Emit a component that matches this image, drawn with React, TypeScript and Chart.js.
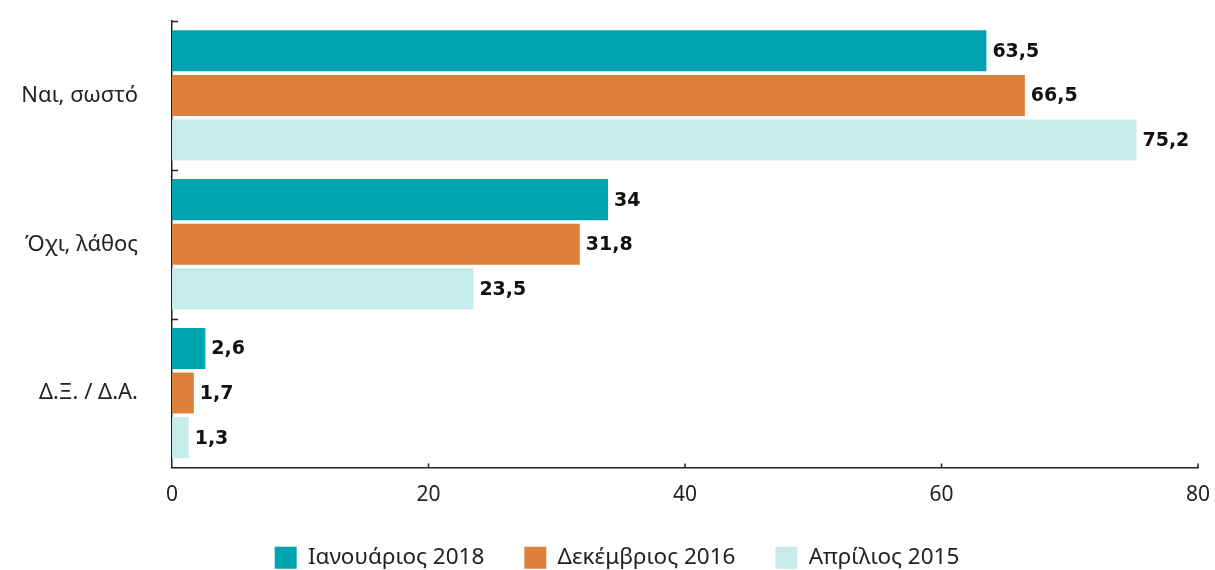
import React, { useEffect, useRef } from "react";
import { Chart, registerables } from "chart.js";

Chart.register(...registerables);

const categories = ["Ναι, σωστό", "Όχι, λάθος", "Δ.Ξ. / Δ.Α."];
const seriesNames = ["Ιανουάριος 2018", "Δεκέμβριος 2016", "Απρίλιος 2015"];
const jan2018 = [63.5, 34, 2.6];
const dec2016 = [66.5, 31.8, 1.7];
const apr2015 = [75.2, 23.5, 1.3];
const xTicks = [0, 20, 40, 60, 80];
const colors = ["#00A4B0", "#DC803B", "#C5EBEB"];

const FONT = "'Noto Sans', sans-serif";
const LABEL_FONT = "'DejaVu Sans', sans-serif";
const CANVAS_W = 1215;
const CANVAS_H = 579;
const LEGEND_PAD = 40;
const LEGEND_SHIFT = 18;

const fmt = (v: number) => String(v).replace(".", ",");

const decorPlugin = {
  id: "decor",
  afterLayout(chart: any) {
    if (chart.legend) {
      chart.legend.left += LEGEND_SHIFT;
      chart.legend.right += LEGEND_SHIFT;
    }
  },
  afterDatasetsDraw(chart: any) {
    const { ctx, chartArea } = chart;
    const xs = chart.scales.x;
    const ys = chart.scales.y;
    ctx.save();
    ctx.strokeStyle = "#222";
    ctx.lineWidth = 1.5;
    // category boundary ticks on y axis (pointing right)
    for (let i = 0; i < categories.length; i++) {
      const py = Math.round(ys.getPixelForValue(i - 0.5)) + 0.5;
      ctx.beginPath();
      ctx.moveTo(chartArea.left, py);
      ctx.lineTo(chartArea.left + 6, py);
      ctx.stroke();
    }
    // x ticks pointing up
    xTicks.forEach((t) => {
      if (t === 0) return;
      const px = xs.getPixelForValue(t);
      ctx.beginPath();
      ctx.moveTo(px, chartArea.bottom);
      ctx.lineTo(px, chartArea.bottom - 4);
      ctx.stroke();
    });
    // data labels
    ctx.fillStyle = "#111";
    ctx.font = `bold 19px ${LABEL_FONT}`;
    ctx.textBaseline = "middle";
    ctx.textAlign = "left";
    chart.data.datasets.forEach((ds: any, i: number) => {
      const meta = chart.getDatasetMeta(i);
      meta.data.forEach((bar: any, j: number) => {
        ctx.fillText(fmt(ds.data[j]), bar.x + 6, bar.y + 1);
      });
    });
    ctx.restore();
  },
};

export default function App() {
  const ref = useRef<HTMLCanvasElement>(null);
  useEffect(() => {
    if (!ref.current) return;
    const chart = new Chart(ref.current, {
      type: "bar",
      data: {
        labels: categories,
        datasets: [jan2018, dec2016, apr2015].map((d, i) => ({
          label: seriesNames[i],
          data: d,
          backgroundColor: colors[i],
          borderWidth: 0,
          categoryPercentage: 0.9,
          barPercentage: 0.92,
        })),
      },
      options: {
        indexAxis: "y",
        animation: false,
        responsive: false,
        maintainAspectRatio: false,
        layout: { padding: { top: 21, right: 17, left: 0, bottom: 0 } },
        plugins: {
          tooltip: { enabled: false },
          legend: {
            position: "bottom",
            labels: {
              boxWidth: 22,
              boxHeight: 22,
              padding: LEGEND_PAD,
              color: "#222",
              font: { family: FONT, size: 22.5 },
            },
          },
        },
        scales: {
          x: {
            min: 0,
            max: 80,
            afterBuildTicks: (s: any) => {
              s.ticks = xTicks.map((v) => ({ value: v }));
            },
            afterFit: (s: any) => {
              s.height = 79 - LEGEND_PAD;
              s.paddingLeft = 0;
              s.paddingRight = 0;
            },
            grid: { display: false },
            border: { display: true, color: "#222", width: 1.5 },
            ticks: {
              color: "#222",
              padding: 7,
              font: { family: FONT, size: 21 },
            },
          },
          y: {
            afterFit: (s: any) => {
              s.width = 172;
              s.paddingTop = 0;
              s.paddingBottom = 0;
            },
            grid: { display: false },
            border: { display: true, color: "#222", width: 1.5 },
            ticks: {
              color: "#222",
              padding: 26,
              font: { family: FONT, size: 22 },
            },
          },
        },
      },
      plugins: [decorPlugin],
    });
    return () => chart.destroy();
  }, []);
  return (
    <div
      style={{
        position: "fixed",
        left: 0,
        top: 0,
        width: 1215,
        height: 570,
        overflow: "hidden",
        background: "#fff",
      }}
    >
      <canvas ref={ref} width={CANVAS_W} height={CANVAS_H} style={{ display: "block" }} />
    </div>
  );
}
